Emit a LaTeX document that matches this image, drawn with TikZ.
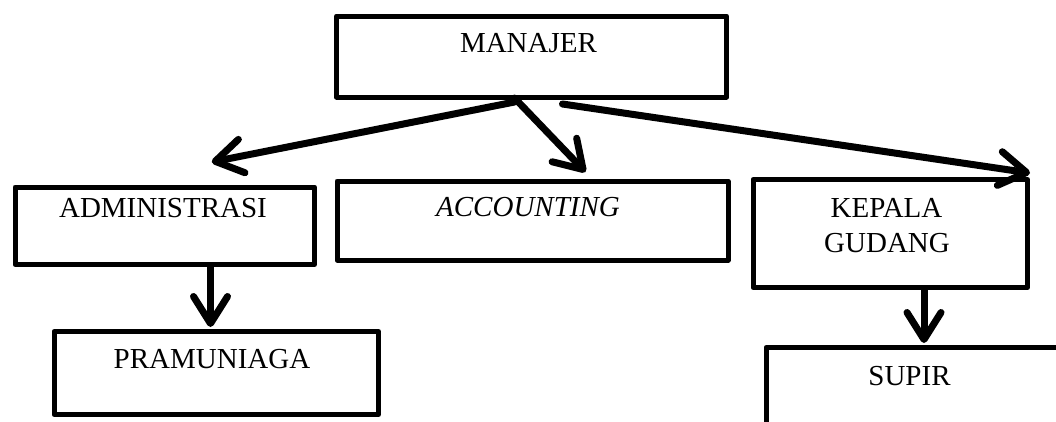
\documentclass[tikz,border=0pt]{standalone}
\usepackage{fontspec}
\setmainfont{Liberation Serif}
\usetikzlibrary{arrows.meta}
\begin{document}
\begin{tikzpicture}[x=1pt,y=-1pt,
  box/.style={draw=black, line width=5pt, line join=round, anchor=north west, inner sep=0pt},
  lbl/.style={anchor=base, inner sep=0pt, align=center, font=\fontsize{29}{35}\selectfont},
  arr/.style={line width=7pt, line cap=round, line join=round,
    -{Straight Barb[length=27pt, width=34pt, line cap=round, line join=round]}}]
\clip (0,0) rectangle (1056,421);
\fill[white] (0,0) rectangle (1056,421);
% boxes
\node[box, minimum width=390pt, minimum height=81pt] (man) at (334,13.5) {};
\node[box, minimum width=299.5pt, minimum height=77.5pt] (adm) at (12.5,184.5) {};
\node[box, minimum width=391pt, minimum height=79pt] (acc) at (334.5,178.5) {};
\node[box, minimum width=274.5pt, minimum height=108pt] (kep) at (750.5,177) {};
\node[box, minimum width=324.5pt, minimum height=83pt] (pram) at (51.5,329) {};
\node[box, minimum width=320pt, minimum height=110pt] (sup) at (763.5,345) {};
% texts
\node[lbl] (tman) at (528.5,52) {MANAJER};
\node[lbl] (tadm) at (163,217) {ADMINISTRASI};
\node[lbl] (tacc) at (528,216) {\itshape ACCOUNTING};
\node[lbl] (tkep) at (886.5,217) {KEPALA};
\node[lbl] (tgud) at (887,252) {GUDANG};
\node[lbl] (tpram) at (212,368) {PRAMUNIAGA};
\node[lbl] (tsup) at (909.5,385) {SUPIR};
% connector ends
\coordinate (k5) at ([xshift=33.75pt]kep.south);
% connectors
\draw[arr] ([xshift=-17pt,yshift=-2.5pt]man.south) -- ([xshift=47pt,yshift=22.5pt]adm.north);
\draw[arr] ([xshift=-17pt,yshift=1.5pt]man.south) -- ([xshift=53pt,yshift=6.5pt]acc.north);
\draw[arr] ([xshift=31pt,yshift=-4.5pt]man.south) -- ([yshift=4pt]kep.north east);
\draw[arr] ([xshift=45.75pt]adm.south) -- ([xshift=-5.75pt,yshift=2pt]pram.north);
\draw[arr] (k5) -- ([yshift=2pt]k5 |- sup.north);
\end{tikzpicture}
\end{document}
